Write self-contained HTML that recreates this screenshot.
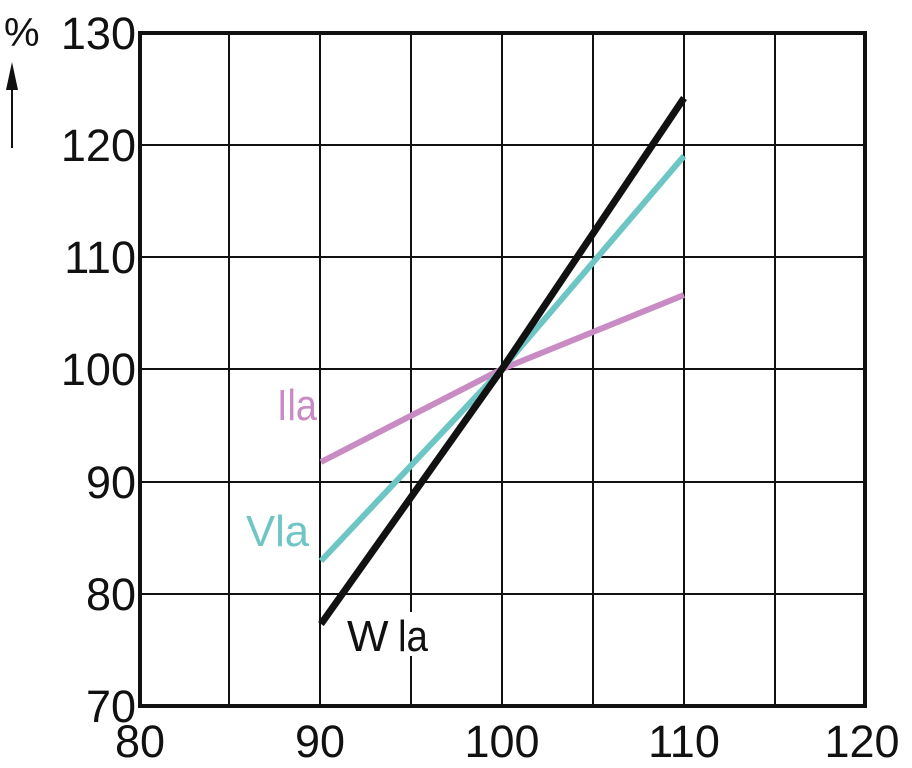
<!DOCTYPE html>
<html><head><style>body{margin:0;background:#fff}svg{display:block}</style></head><body>
<svg width="912" height="768" viewBox="0 0 912 768" font-family="Liberation Sans, sans-serif">
<g stroke="#111" stroke-width="2">
<line x1="229" y1="33" x2="229" y2="706"/><line x1="320" y1="33" x2="320" y2="706"/>
<line x1="411" y1="33" x2="411" y2="706"/><line x1="502" y1="33" x2="502" y2="706"/>
<line x1="593" y1="33" x2="593" y2="706"/><line x1="684" y1="33" x2="684" y2="706"/>
<line x1="775" y1="33" x2="775" y2="706"/>
<line x1="140" y1="145" x2="865" y2="145"/><line x1="140" y1="257" x2="865" y2="257"/>
<line x1="140" y1="369" x2="865" y2="369"/><line x1="140" y1="482" x2="865" y2="482"/>
<line x1="140" y1="594" x2="865" y2="594"/>
</g>
<rect x="140" y="33" width="725" height="673" fill="none" stroke="#111" stroke-width="4"/>
<rect x="340" y="612" width="96" height="44" fill="#fff"/>
<polyline points="321,462 502,369 684,295" fill="none" stroke="#c98bc3" stroke-width="6"/>
<polyline points="321,561 502,369 684,156" fill="none" stroke="#6ec6c4" stroke-width="6"/>
<polyline points="321,624 502,369 684,98" fill="none" stroke="#111" stroke-width="7"/>
<g font-size="45" fill="#111" text-anchor="end">
<text x="136" y="49">130</text><text x="136" y="161">120</text><text x="136" y="273">110</text>
<text x="136" y="385">100</text><text x="136" y="498">90</text><text x="136" y="610">80</text>
<text x="136" y="722">70</text>
</g>
<g font-size="45" fill="#111" text-anchor="middle">
<text x="140" y="757">80</text><text x="320" y="757">90</text><text x="502" y="757">100</text>
<text x="684" y="757">110</text><text x="862" y="757">120</text>
</g>
<text x="4" y="46" font-size="40" fill="#111">%</text>
<line x1="12" y1="148" x2="12" y2="80" stroke="#111" stroke-width="2"/>
<polygon points="12,62 6,90 18,90" fill="#111"/>
<text x="277" y="420" font-size="44" fill="#c98bc3" textLength="40" lengthAdjust="spacingAndGlyphs">Ila</text>
<text x="246" y="546" font-size="44" fill="#6ec6c4" textLength="63" lengthAdjust="spacingAndGlyphs">Vla</text>
<text x="347" y="651" font-size="44" fill="#111">W</text>
<text x="398" y="651" font-size="44" fill="#111" textLength="30" lengthAdjust="spacingAndGlyphs">la</text>
</svg>
</body></html>
